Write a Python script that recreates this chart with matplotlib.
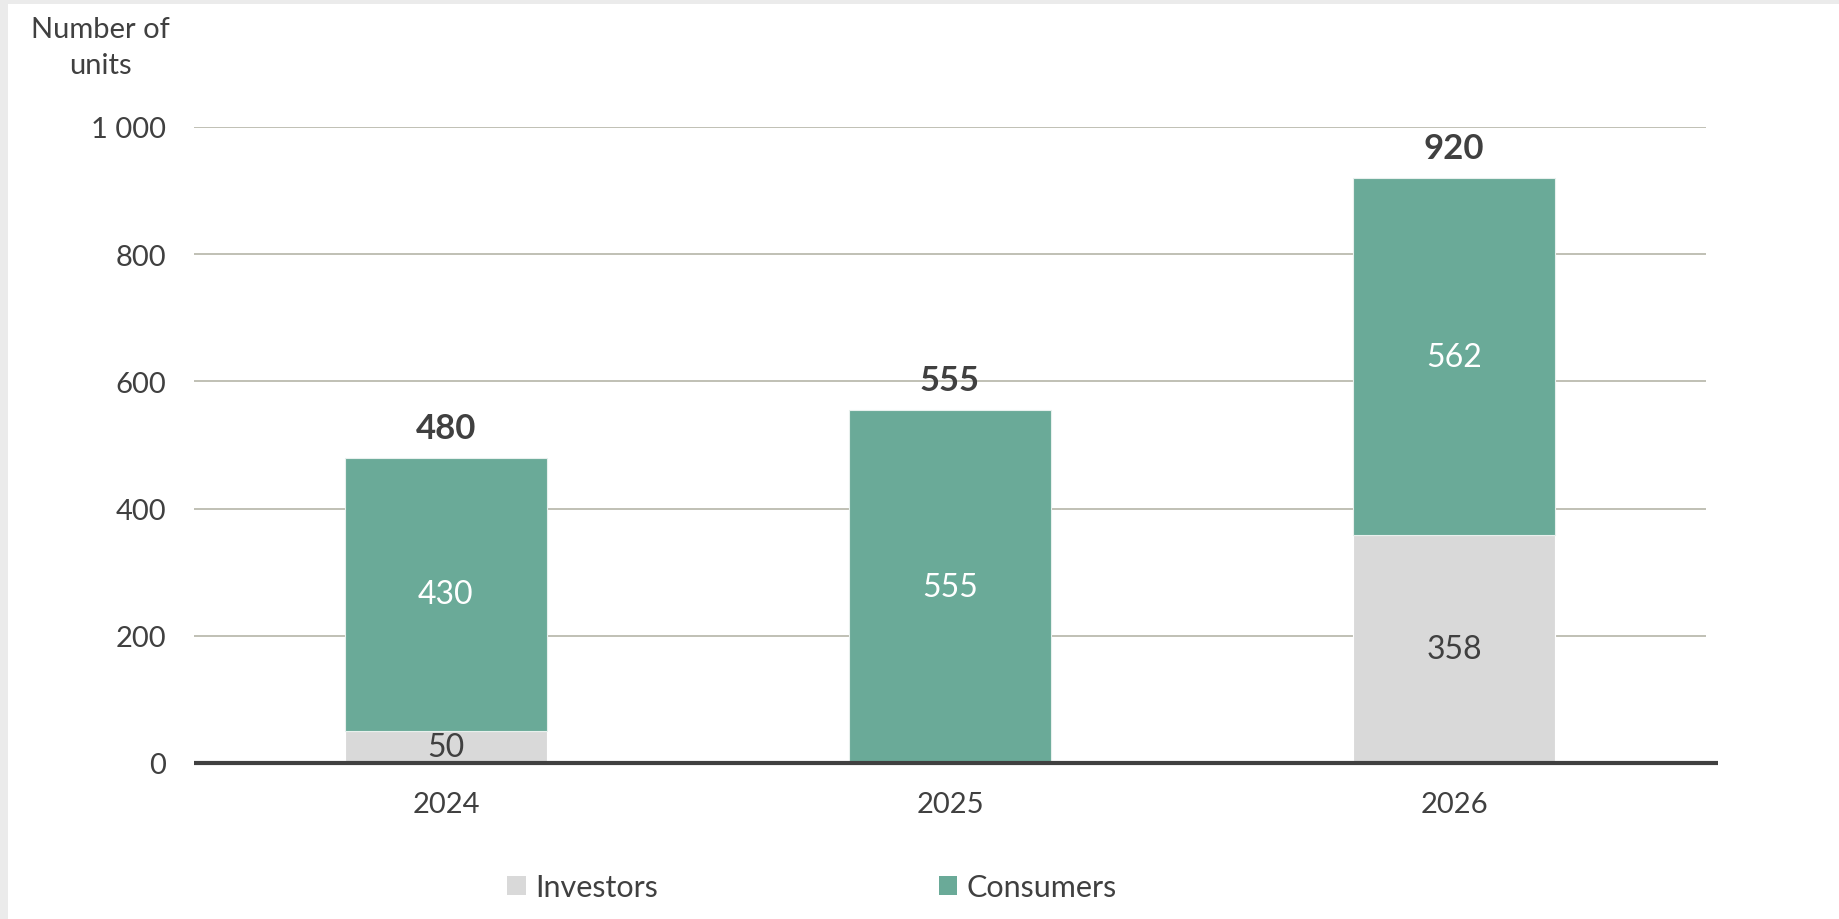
import matplotlib
matplotlib.use("Agg")
import matplotlib.pyplot as plt
from matplotlib.patches import Rectangle, Patch

years = ["2024", "2025", "2026"]
investors = [50, 0, 358]
consumers = [430, 555, 562]
totals = [480, 555, 920]
yticks = [0, 200, 400, 600, 800, 1000]
ytick_labels = ["0", "200", "400", "600", "800", "1 000"]

GREEN = "#6aaa98"
GREY = "#d9d9d9"
DARK = "#404040"

plt.rcParams['font.family'] = ['Lato', 'DejaVu Sans']

fig = plt.figure(figsize=(18.4, 9.2), dpi=100)
fig.patch.set_facecolor("#ebebeb")
fig.patches.append(Rectangle((8/1840, 0), 1, 1 - 5/920, transform=fig.transFigure,
                             facecolor="white", edgecolor="none", zorder=-10))

ax = fig.add_axes([194/1840, 1 - 764/920, (1706-194)/1840, (764-128)/920])
ax.set_facecolor("none")
x = range(len(years))
w = 0.4
ax.bar(x, investors, width=w, color=GREY, edgecolor="white", linewidth=0.8, zorder=2)
ax.bar(x, consumers, width=w, bottom=investors, color=GREEN, edgecolor="#e8f0ed", linewidth=0.8, zorder=2)

for i in x:
    if investors[i] > 0:
        ax.text(i, investors[i] / 2, str(investors[i]), ha="center", va="center",
                fontsize=23, color=DARK, zorder=3)
    if consumers[i] > 0:
        ax.text(i, investors[i] + consumers[i] / 2, str(consumers[i]), ha="center", va="center",
                fontsize=23, color="white", zorder=3)
    ax.annotate(str(totals[i]), (i, totals[i]), xytext=(0, 10), textcoords="offset points",
                ha="center", va="bottom", fontsize=25, fontweight="bold", color=DARK, zorder=3)

ax.set_xlim(-0.5, 2.5)
ax.set_ylim(0, 1000)
ax.set_yticks(yticks)
ax.set_yticklabels(ytick_labels)
ax.set_xticks(list(x))
ax.set_xticklabels(years)
for lab in ax.get_xticklabels() + ax.get_yticklabels():
    lab.set_fontsize(21)
    lab.set_color(DARK)
ax.tick_params(axis="both", length=0)
ax.tick_params(axis="y", pad=20)
ax.tick_params(axis="x", pad=20)
ax.yaxis.grid(True, color="#b5b5a8", linewidth=1.2, zorder=0)
ax.set_axisbelow(True)
for s in ["top", "right", "left", "bottom"]:
    ax.spines[s].set_visible(False)
# baseline slightly longer than the gridlines
ax.plot([-0.5, 2.5 + 12 / 504], [0, 0], color=DARK, linewidth=3, clip_on=False,
        solid_capstyle="butt", zorder=4)

fig.text(100/1840, 1 - 48/920, "Number of\nunits", ha="center", va="center",
         multialignment="center", fontsize=21, color=DARK, linespacing=1.5)

handles = [Patch(facecolor=GREY, edgecolor="none", label="Investors"),
           Patch(facecolor=GREEN, edgecolor="none", label="Consumers")]
leg = fig.legend(handles=handles, loc="center", bbox_to_anchor=(812/1840, 1 - 888/920), ncol=2,
                 frameon=False, fontsize=22, handlelength=0.6, handleheight=0.6,
                 handletextpad=0.3, columnspacing=9.2)
for t in leg.get_texts():
    t.set_color(DARK)

fig.savefig("out.png", dpi=100, facecolor=fig.get_facecolor())
